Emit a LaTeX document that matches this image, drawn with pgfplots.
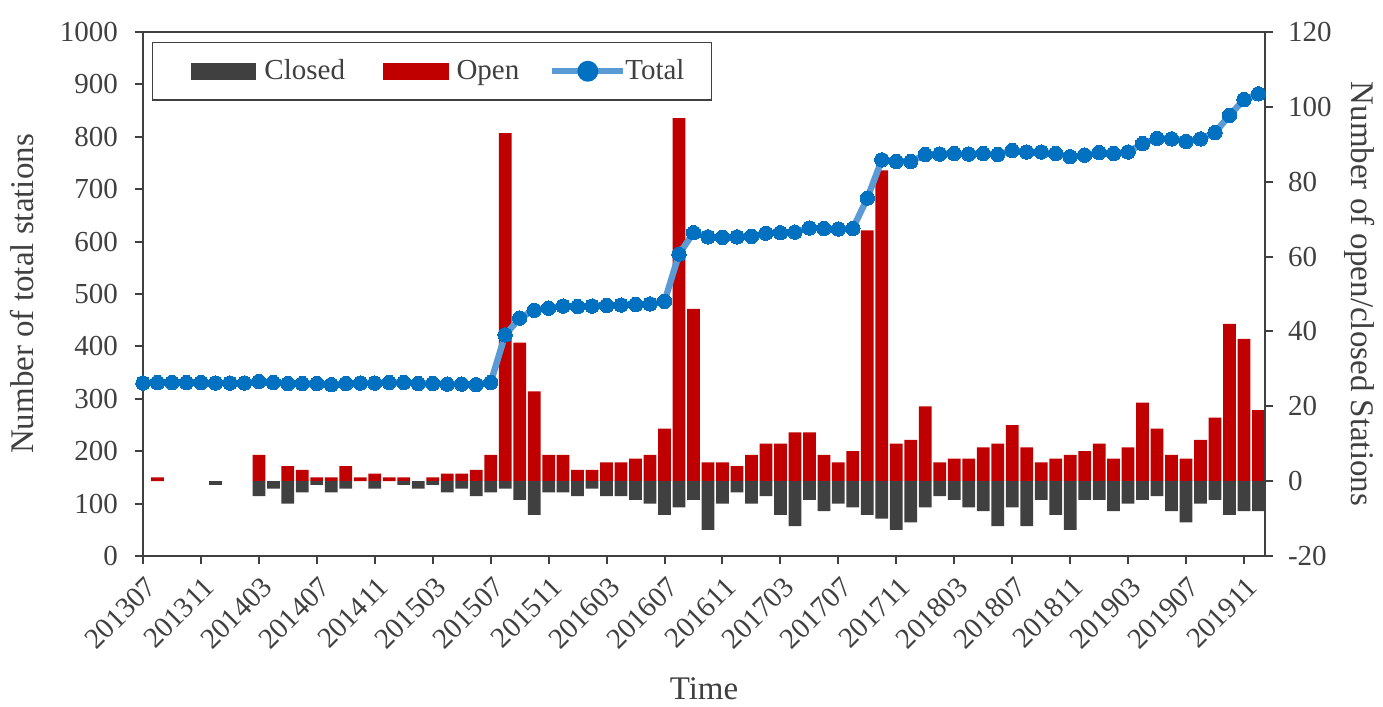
\documentclass[border=0pt]{standalone}
\usepackage{fontspec}
\setmainfont{Liberation Serif}
\usepackage{pgfplots}
\usepackage{pgfplotstable}
\pgfplotsset{compat=1.18}

\definecolor{axisgray}{HTML}{404040}
\definecolor{cclosed}{HTML}{404040}
\definecolor{copen}{HTML}{C00000}
\definecolor{cline}{HTML}{5B9BD5}
\definecolor{cmark}{HTML}{0070C0}

% month index (0 = 201307), opened, closed (negative), total stations
% nan = no bar that month
\pgfplotstableread{
idx open closed total
0 nan nan 330
1 1 nan 331
2 nan nan 331
3 nan nan 331
4 nan nan 331
5 nan -1 330
6 nan nan 330
7 nan nan 330
8 7 -4 333
9 nan -2 331
10 4 -6 329
11 3 -3 329
12 1 -1 329
13 1 -3 327
14 4 -2 329
15 1 nan 330
16 2 -2 330
17 1 nan 331
18 1 -1 331
19 nan -2 329
20 1 -1 329
21 2 -3 328
22 2 -2 328
23 3 -4 327
24 7 -3 331
25 93 -2 422
26 37 -5 454
27 24 -9 469
28 7 -3 473
29 7 -3 477
30 3 -4 476
31 3 -2 477
32 5 -4 478
33 5 -4 479
34 6 -5 480
35 7 -6 481
36 14 -9 486
37 97 -7 576
38 46 -5 617
39 5 -13 609
40 5 -6 608
41 4 -3 609
42 7 -6 610
43 10 -4 616
44 10 -9 617
45 13 -12 618
46 13 -5 626
47 7 -8 625
48 5 -6 624
49 8 -7 625
50 67 -9 683
51 83 -10 756
52 10 -13 753
53 11 -11 753
54 20 -7 766
55 5 -4 767
56 6 -5 768
57 6 -7 767
58 9 -8 768
59 10 -12 766
60 15 -7 774
61 9 -12 771
62 5 -5 771
63 6 -9 768
64 7 -13 762
65 8 -5 765
66 10 -5 770
67 6 -8 768
68 9 -6 771
69 21 -5 787
70 14 -4 797
71 7 -8 796
72 6 -11 791
73 11 -6 796
74 17 -5 808
75 42 -9 841
76 38 -8 871
77 19 -8 882
}\stations

\pgfplotsset{
  base/.style={
    width=561pt, height=262pt, scale only axis,
    at={(0,0)}, anchor=south west,
    xmin=0, xmax=77.45,
    axis line style={axisgray, line width=1pt},
    tick style={axisgray, line width=1pt},
    major tick length=4pt,
    tick align=outside,
    /pgf/number format/assume math mode=true,
    /pgf/number format/1000 sep={},
    ticklabel style={font=\fontsize{14.5}{17}\selectfont, text=axisgray},
    label style={font=\fontsize{16.5}{20}\selectfont, text=axisgray},
  },
}

\begin{document}
\begin{tikzpicture}
\useasboundingbox (-71.5pt,-75.5pt) rectangle (620pt,278pt);

% bars: open / closed, right axis
\begin{axis}[base,
  axis x line=none,
  axis y line*=right,
  ymin=-20, ymax=120, ytick={-20,0,...,120},
  yticklabel style={xshift=4pt},
  ylabel={Number of open/closed Stations},
  ylabel style={at={(axis description cs:1.0847,0.5)}, anchor=center, rotate=180},
]
\addplot[ybar, bar width=0.88, bar shift=0pt, fill=copen, draw=none]
  table[x=idx, y=open] {\stations};
\addplot[ybar, bar width=0.88, bar shift=0pt, fill=cclosed, draw=none]
  table[x=idx, y=closed] {\stations};
\end{axis}

% total stations, left axis
\begin{axis}[base,
  ymin=0, ymax=1000, ytick={0,100,...,1000},
  xtick pos=left, ytick pos=left,
  yticklabel style={xshift=-5pt},
  xtick={0,4,...,76},
  xticklabels={201307,201311,201403,201407,201411,201503,201507,201511,201603,201607,
    201611,201703,201707,201711,201803,201807,201811,201903,201907,201911},
  xticklabel style={rotate=45, anchor=north east, yshift=-1pt},
  xlabel={Time},
  ylabel={Number of total stations},
  xlabel style={at={(axis description cs:0.5,-0.254)}, anchor=center},
  ylabel style={at={(axis description cs:-0.108,0.5)}, anchor=center},
  legend columns=-1,
  legend style={at={(0.008,0.981)}, anchor=north west,
    draw=axisgray, line width=0.75pt, fill=white,
    font=\fontsize{14.5}{17}\selectfont,
    nodes={text=axisgray, inner sep=0pt},
    inner xsep=13.5pt, inner ysep=8.5pt,
    /tikz/every odd column/.append style={column sep=4pt},
    /tikz/every even column/.append style={column sep=19pt}},
]
\addlegendimage{legend image code/.code={\path[draw=none] (-6pt,0pt) -- (32pt,0pt);
    \fill[cclosed] (0pt,-3.75pt) rectangle (32pt,3.75pt);}}
\addlegendentry{Closed}
\addlegendimage{legend image code/.code={\fill[copen] (0pt,-3.75pt) rectangle (32pt,3.75pt);}}
\addlegendentry{Open}
\addplot[draw=cline, line width=3.2pt, mark=*, mark size=3.6pt,
  mark options={fill=cmark, draw=cmark, line width=0pt},
  legend image code/.code={\path[draw=none] (0pt,0pt) -- (30pt,0pt);
    \draw[overlay, cline, line width=3.2pt] (-2.5pt,0pt) -- (33pt,0pt);
    \fill[overlay, cmark] (15.25pt,0pt) circle (3.6pt);}]
  table[x=idx, y=total] {\stations};
\addlegendentry{Total}
\end{axis}
\end{tikzpicture}
\end{document}
